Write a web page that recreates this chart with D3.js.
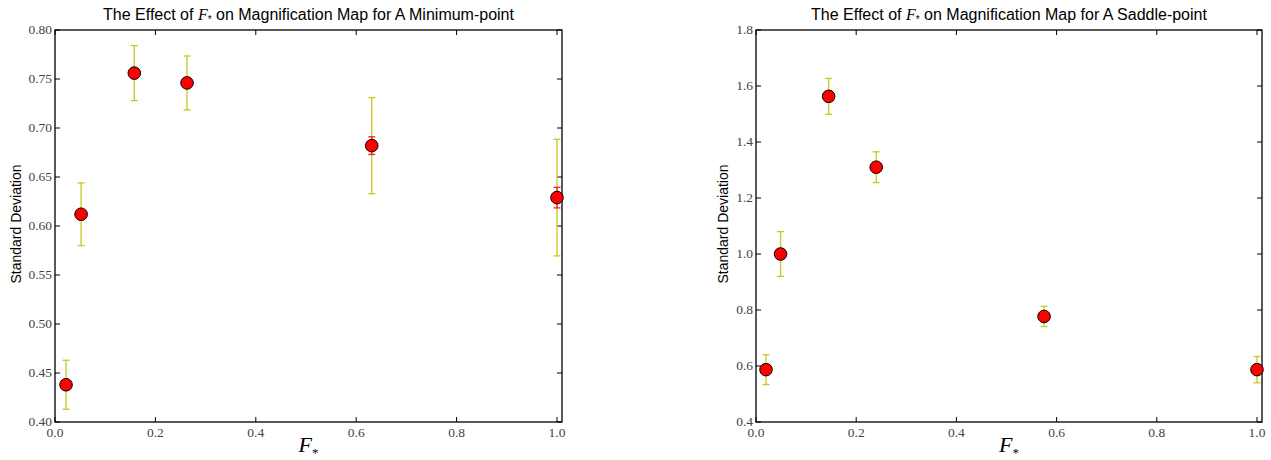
<!DOCTYPE html>
<html>
<head>
<meta charset="utf-8">
<script src="https://cdn.jsdelivr.net/npm/d3@7"></script>
<style>
  body { margin: 0; background: #fff; }
  svg { display: block; }
</style>
</head>
<body>
<svg width="1271" height="460"></svg>
<script>
// values
var minF = [0.022, 0.052, 0.158, 0.263, 0.631, 1.0];
var minSD = [0.438, 0.612, 0.756, 0.746, 0.682, 0.629];
var minErr = [0.025, 0.032, 0.028, 0.0275, 0.049, 0.0595];
var minErrSmall = [0.004, 0.004, 0.004, 0.004, 0.009, 0.0105];

var sadF = [0.02, 0.049, 0.145, 0.24, 0.575, 1.0];
var sadSD = [0.587, 1.0, 1.563, 1.31, 0.777, 0.587];
var sadErr = [0.053, 0.08, 0.064, 0.055, 0.036, 0.047];
var sadErrSmall = [0.01, 0.01, 0.01, 0.01, 0.01, 0.01];

var xTicks = [0, 0.2, 0.4, 0.6, 0.8, 1.0];
var minTicks = [0.40, 0.45, 0.50, 0.55, 0.60, 0.65, 0.70, 0.75, 0.80];
var sadTicks = [0.4, 0.6, 0.8, 1.0, 1.2, 1.4, 1.6, 1.8];

var svg = d3.select("svg");

function drawPanel(opt) {
	var x = d3.scaleLinear().domain([0, 1.01]).range([opt.left, opt.right]);
	var y = d3.scaleLinear().domain(opt.yDomain).range([422, 30]);
	var g = svg.append("g");

	// frame
	g.append("rect")
		.attr("x", opt.left).attr("y", 30)
		.attr("width", opt.right - opt.left).attr("height", 392)
		.attr("fill", "none").attr("stroke", "#000").attr("stroke-width", 1.3);

	// ticks pointing inward, all four sides
	var tl = 5;
	xTicks.forEach(function(t) {
		g.append("line").attr("x1", x(t)).attr("x2", x(t)).attr("y1", 422).attr("y2", 422 - tl)
			.attr("stroke", "#000");
		g.append("line").attr("x1", x(t)).attr("x2", x(t)).attr("y1", 30).attr("y2", 30 + tl)
			.attr("stroke", "#000");
		g.append("text").attr("x", x(t)).attr("y", 437)
			.attr("text-anchor", "middle")
			.style("font-family", "Liberation Serif, serif").style("font-size", "13.5px")
			.attr("fill", "#444")
			.text(d3.format(".1f")(t));
	});
	opt.yTicks.forEach(function(t) {
		g.append("line").attr("x1", opt.left).attr("x2", opt.left + tl).attr("y1", y(t)).attr("y2", y(t))
			.attr("stroke", "#000");
		g.append("line").attr("x1", opt.right).attr("x2", opt.right - tl).attr("y1", y(t)).attr("y2", y(t))
			.attr("stroke", "#000");
		g.append("text").attr("x", opt.left - 3).attr("y", y(t) + 4)
			.attr("text-anchor", "end")
			.style("font-family", "Liberation Serif, serif").style("font-size", "13.5px")
			.attr("fill", "#444")
			.text(d3.format(opt.yFmt)(t));
	});

	// title
	var mid = (opt.left + opt.right) / 2;
	var title = g.append("text").attr("x", mid).attr("y", 20)
		.attr("text-anchor", "middle")
		.style("font-family", "Liberation Sans, Arial, sans-serif").style("font-size", "16px");
	title.append("tspan").text("The Effect of ");
	title.append("tspan").style("font-family", "Liberation Serif, serif").style("font-style", "italic").text("F");
	title.append("tspan").attr("dy", 3).style("font-size", "10px").text("*");
	title.append("tspan").attr("dy", -3).text(" on Magnification Map for A " + opt.kind);

	// axis labels
	var xl = g.append("text").attr("x", mid).attr("y", 452)
		.attr("text-anchor", "middle")
		.style("font-family", "Liberation Serif, serif").style("font-size", "22px");
	xl.append("tspan").style("font-style", "italic").text("F");
	xl.append("tspan").attr("dy", 5).style("font-size", "13px").text("*");

	g.append("text")
		.attr("transform", "translate(" + (opt.left - opt.labelOff) + "," + 224 + ") rotate(-90)")
		.attr("text-anchor", "middle")
		.style("font-family", "Liberation Sans, Arial, sans-serif").style("font-size", "14px")
		.text("Standard Deviation");

	// error bars
	function bars(err, color, cap) {
		opt.xs.forEach(function(f, i) {
			var cx = x(f), lo = y(opt.ys[i] - err[i]), hi = y(opt.ys[i] + err[i]);
			g.append("line").attr("x1", cx).attr("x2", cx).attr("y1", lo).attr("y2", hi)
				.attr("stroke", color).attr("stroke-width", 1.3);
			[lo, hi].forEach(function(yy) {
				g.append("line").attr("x1", cx - cap).attr("x2", cx + cap).attr("y1", yy).attr("y2", yy)
					.attr("stroke", color).attr("stroke-width", 1.3);
			});
		});
	}
	bars(opt.err, "#c8c81e", 3.5);
	bars(opt.errSmall, "#ff1a1a", 3.5);

	// points
	g.selectAll("circle.pt")
		.data(opt.xs).enter().append("circle")
		.attr("class", "pt")
		.attr("cx", function(d) { return x(d); })
		.attr("cy", function(d, i) { return y(opt.ys[i]); })
		.attr("r", 6.3)
		.attr("fill", "#ff0000")
		.attr("stroke", "#000")
		.attr("stroke-width", 1);
}

drawPanel({
	left: 55, right: 562, yDomain: [0.4, 0.8], yTicks: minTicks, yFmt: ".2f", labelOff: 34,
	xs: minF, ys: minSD, err: minErr, errSmall: minErrSmall, kind: "Minimum-point"
});
drawPanel({
	left: 756, right: 1262, yDomain: [0.4, 1.8], yTicks: sadTicks, yFmt: ".1f", labelOff: 28,
	xs: sadF, ys: sadSD, err: sadErr, errSmall: sadErrSmall, kind: "Saddle-point"
});
</script>
</body>
</html>
